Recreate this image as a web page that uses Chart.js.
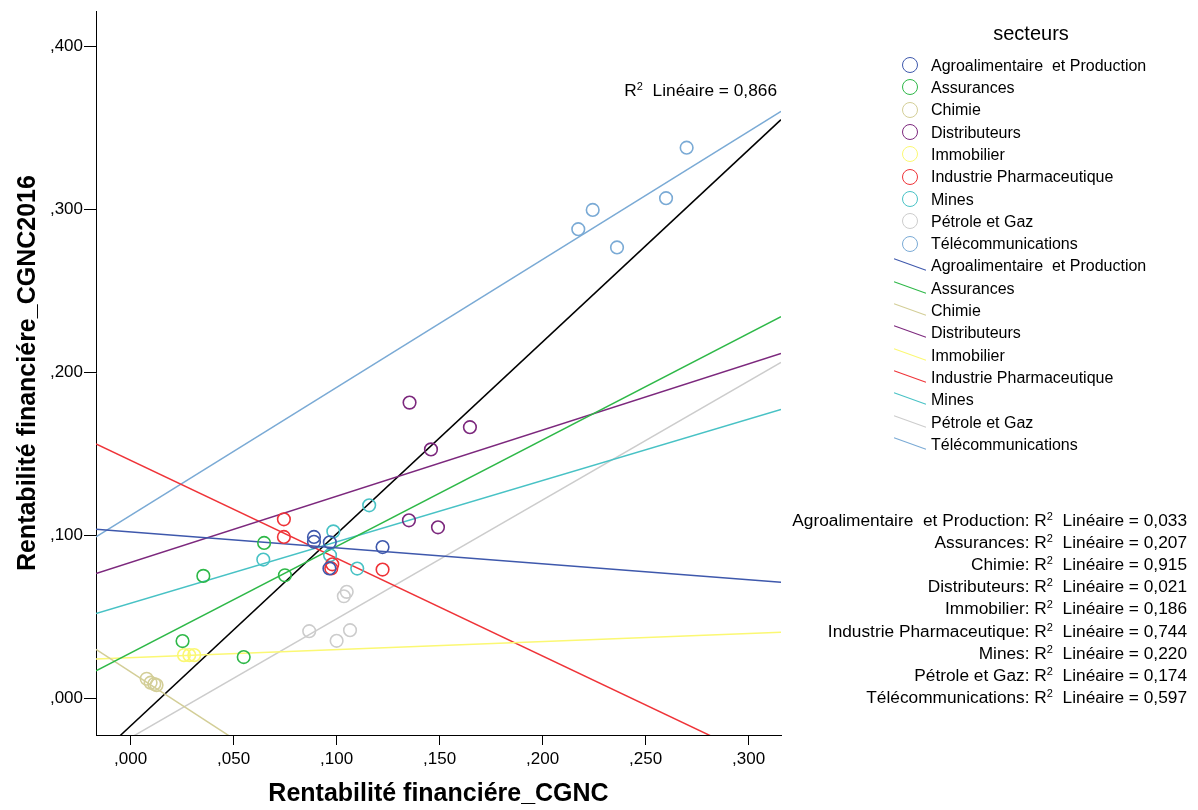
<!DOCTYPE html>
<html>
<head>
<meta charset="utf-8">
<script src="https://cdn.jsdelivr.net/npm/chart.js@4.4.1/dist/chart.umd.min.js"></script>
<style>
    body { margin: 0; background: #fff; }
    #wrap { position: relative; width: 1198px; height: 810px; font-family: "Liberation Sans", Arial, sans-serif; color: #000; }
    #graph { position: absolute; left: 0; top: 0; }
    .txt { position: absolute; font-size: 16px; line-height: 20px; height: 20px; white-space: pre; }
    .r2 { font-size: 17.3px; }
    .txt sup { font-size: 11px; vertical-align: 6px; line-height: 0; }
    .rond { position: absolute; width: 14px; height: 14px; border-radius: 50%; border: 1.6px solid; }
    .trait { position: absolute; width: 34px; height: 0; border-top: 1.5px solid; transform: rotate(20deg); }
</style>
</head>
<body>
<div id="wrap">
    <canvas id="graph" width="1198" height="810"></canvas>
    <div id="legende"></div>
</div>
<script>
// secteurs et couleurs
const secteurs = ["Agroalimentaire  et Production", "Assurances", "Chimie", "Distributeurs", "Immobilier",
    "Industrie Pharmaceutique", "Mines", "Pétrole et Gaz", "Télécommunications"];
const couleurs = ["#3E58AC", "#2EB848", "#D3CE97", "#7C287D", "#FBF873", "#EF3338", "#48C2C5", "#CCCCCC", "#7AAAD5"];

// Rentabilité financière CGNC (x) et CGNC2016 (y) par secteur
const agroX = [0.0890, 0.0890, 0.0967, 0.0965, 0.1223];
const agroY = [0.0990, 0.0960, 0.0957, 0.0797, 0.0928];
const assurX = [0.0648, 0.0353, 0.0749, 0.0252, 0.0549];
const assurY = [0.0953, 0.0751, 0.0755, 0.0351, 0.0253];
const chimieX = [0.0078, 0.0097, 0.0115, 0.0126];
const chimieY = [0.0120, 0.0096, 0.0088, 0.0081];
const distribX = [0.1354, 0.1458, 0.1647, 0.1351, 0.1492];
const distribY = [0.1814, 0.1527, 0.1663, 0.1092, 0.1049];
const immoX = [0.0259, 0.0285, 0.0309];
const immoY = [0.0265, 0.0265, 0.0265];
const pharmaX = [0.0744, 0.0744, 0.0979, 0.0974, 0.1223];
const pharmaY = [0.1098, 0.0990, 0.0822, 0.0797, 0.0790];
const minesX = [0.1158, 0.0984, 0.0968, 0.1100, 0.0644];
const minesY = [0.1184, 0.1024, 0.0878, 0.0796, 0.0851];
const petroleX = [0.1049, 0.1035, 0.0867, 0.1065, 0.1000];
const petroleY = [0.0653, 0.0626, 0.0412, 0.0418, 0.0353];
const telecomX = [0.2699, 0.2243, 0.2173, 0.2599, 0.2361];
const telecomY = [0.3378, 0.2996, 0.2878, 0.3068, 0.2766];

// droites d'ajustement : valeur de y aux deux bords de l'axe x
const ajustDebut = [0.1037, 0.0169, 0.0300, 0.0765, 0.0241, 0.1560, 0.0520, -0.0364, 0.0990];
const ajustFin = [0.0712, 0.2341, -0.2427, 0.2115, 0.0406, -0.0435, 0.1772, 0.2060, 0.3600];
const totalDebut = -0.0367;
const totalFin = 0.3550;

const r2Secteurs = ["0,033", "0,207", "0,915", "0,021", "0,186", "0,744", "0,220", "0,174", "0,597"];
const r2Total = "0,866";

const xMin = -0.0168, xMax = 0.3157;
const yMin = -0.0225, yMax = 0.4215;

const police = "'Liberation Sans', Arial, sans-serif";
const seriesX = [agroX, assurX, chimieX, distribX, immoX, pharmaX, minesX, petroleX, telecomX];
const seriesY = [agroY, assurY, chimieY, distribY, immoY, pharmaY, minesY, petroleY, telecomY];

function formatVirgule(v) {
    return v.toFixed(3).replace(/^0\./, ",");
}

const datasets = [];
secteurs.forEach((nom, i) => {
    datasets.push({
        label: nom,
        data: seriesX[i].map((x, k) => ({ x: x, y: seriesY[i][k] })),
        borderColor: couleurs[i],
        backgroundColor: "rgba(0,0,0,0)",
        pointRadius: 6.3,
        borderWidth: 1.6,
        order: 0,
    });
});
secteurs.forEach((nom, i) => {
    datasets.push({
        label: nom + " (ajustement)",
        data: [{ x: xMin, y: ajustDebut[i] }, { x: xMax, y: ajustFin[i] }],
        showLine: true,
        borderColor: couleurs[i],
        borderWidth: 1.5,
        pointRadius: 0,
        order: 1,
    });
});
datasets.push({
    label: "Total",
    data: [{ x: xMin, y: totalDebut }, { x: xMax, y: totalFin }],
    showLine: true,
    borderColor: "#000",
    borderWidth: 1.5,
    pointRadius: 0,
    order: 1,
});

new Chart(document.getElementById("graph"), {
    type: "scatter",
    data: { datasets: datasets },
    options: {
        responsive: false,
        animation: false,
        events: [],
        layout: { padding: { left: 0, top: 10, right: 417, bottom: 0 } },
        plugins: { legend: { display: false }, tooltip: { enabled: false } },
        scales: {
            x: {
                type: "linear",
                min: xMin,
                max: xMax,
                afterFit: s => { s.height = 75; },
                border: { display: true, color: "#000", width: 1 },
                grid: { drawOnChartArea: false, drawTicks: true, tickLength: 10, color: "#000" },
                ticks: {
                    stepSize: 0.05,
                    includeBounds: false,
                    autoSkip: false,
                    maxRotation: 0,
                    padding: 4,
                    color: "#000",
                    font: { family: police, size: 17 },
                    callback: v => formatVirgule(v),
                },
                title: {
                    display: true,
                    text: "Rentabilité financiére_CGNC",
                    color: "#000",
                    font: { family: police, size: 25, weight: "bold" },
                    padding: { top: 0, bottom: 1 },
                },
            },
            y: {
                type: "linear",
                min: yMin,
                max: yMax,
                afterFit: s => { s.width = 96; },
                border: { display: true, color: "#000", width: 1 },
                grid: { drawOnChartArea: false, drawTicks: true, tickLength: 12, color: "#000" },
                ticks: {
                    stepSize: 0.1,
                    includeBounds: false,
                    autoSkip: false,
                    padding: 1,
                    color: "#000",
                    font: { family: police, size: 17 },
                    callback: v => formatVirgule(v),
                },
                title: {
                    display: true,
                    text: "Rentabilité financiére_CGNC2016",
                    color: "#000",
                    font: { family: police, size: 25, weight: "bold" },
                    padding: { top: 13, bottom: 0 },
                },
            },
        },
    },
});

// légende et libellés R²
const legende = document.getElementById("legende");
function ajouter(html, style, classe) {
    const d = document.createElement("div");
    d.className = classe;
    d.style.cssText = style;
    d.innerHTML = html;
    legende.appendChild(d);
}
ajouter("secteurs", "left:931px;width:200px;text-align:center;top:" + (33.3 - 12) + "px;font-size:20px;line-height:24px;height:24px;", "txt");
secteurs.forEach((nom, i) => {
    const c = 65.7 + i * 22.3;
    ajouter("", "left:901.5px;top:" + (c - 8.6) + "px;border-color:" + couleurs[i] + ";", "rond");
    ajouter(nom, "left:931px;top:" + (c - 10) + "px;", "txt");
});
secteurs.forEach((nom, i) => {
    const c = 65.7 + (i + 9) * 22.3;
    ajouter("", "left:893px;top:" + (c - 2) + "px;border-color:" + couleurs[i] + ";", "trait");
    ajouter(nom, "left:931px;top:" + (c - 10) + "px;", "txt");
});
secteurs.forEach((nom, i) => {
    const c = 520 + i * 22.1;
    ajouter(nom + ": R<sup>2</sup>  Linéaire = " + r2Secteurs[i], "right:11px;text-align:right;top:" + (c - 10) + "px;", "txt r2");
});
ajouter("R<sup>2</sup>  Linéaire = " + r2Total, "right:421px;text-align:right;top:" + (90 - 10) + "px;", "txt r2");
</script>
</body>
</html>
